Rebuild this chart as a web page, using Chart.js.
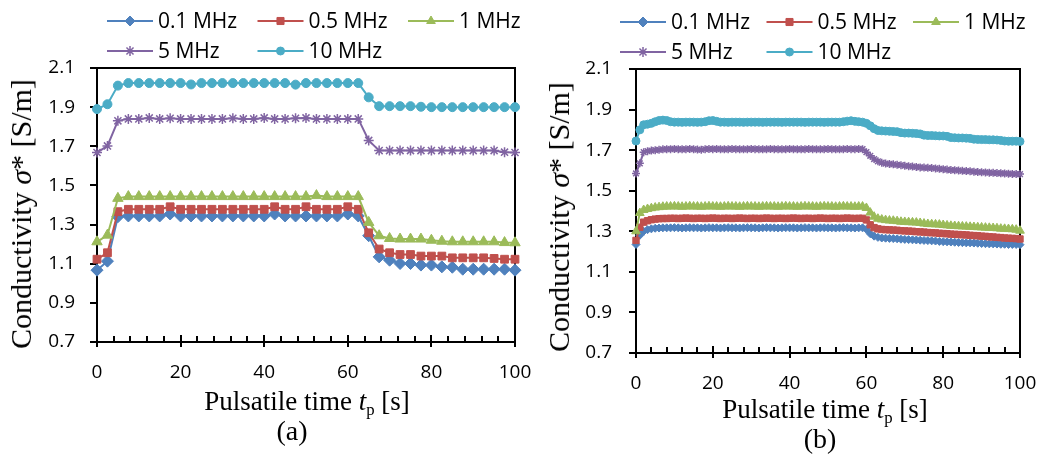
<!DOCTYPE html>
<html>
<head>
<meta charset="utf-8">
<script src="https://cdn.jsdelivr.net/npm/chart.js@4.4.0/dist/chart.umd.min.js"></script>
<style>
  body { margin: 0; background: #fff; width: 1040px; height: 459px; position: relative; overflow: hidden; }
  canvas { position: absolute; top: 0; }
  #chartA { left: 0; }
  #chartB { left: 520px; }
  .lbl { position: absolute; font-family: "Liberation Serif", "Times New Roman", serif; color: #000;
         white-space: nowrap; line-height: 1; transform: translate(-50%, -50%); }
  .ytitle { font-size: 30px; transform: translate(-50%, -50%) rotate(-90deg); }
  .xtitle { font-size: 27px; }
  .cap { font-size: 28px; }
  .sub { font-size: 0.62em; position: relative; top: 0.3em; }
</style>
</head>
<body>
<canvas id="chartA" width="545" height="459"></canvas>
<canvas id="chartB" width="520" height="459"></canvas>

<div class="lbl ytitle" style="left:21px; top:214px;">Conductivity <i>σ</i>* [S/m]</div>
<div class="lbl xtitle" style="left:307px; top:401px;">Pulsatile time <i>t</i><span class="sub">p</span> [s]</div>
<div class="lbl cap" style="left:292px; top:431px;">(a)</div>

<div class="lbl ytitle" style="left:559px; top:217px;">Conductivity <i>σ</i>* [S/m]</div>
<div class="lbl xtitle" style="left:825px; top:409px;">Pulsatile time <i>t</i><span class="sub">p</span> [s]</div>
<div class="lbl cap" style="left:820px; top:439px;">(b)</div>

<script>
// series names and colours
const seriesLabels = ["0.1 MHz", "0.5 MHz", "1 MHz", "5 MHz", "10 MHz"];
const seriesColors = ["#4F81BD", "#C0504D", "#9BBB59", "#8064A2", "#4BACC6"];
const seriesMarkers = ["rectRot", "rect", "triangle", "star", "circle"];

// axis ticks
const xTicks = [0, 20, 40, 60, 80, 100];
const yTicks = [0.7, 0.9, 1.1, 1.3, 1.5, 1.7, 1.9, 2.1];

// (a) sampled every 2.5 s
const timeA = [0, 2.5, 5, 7.5, 10, 12.5, 15, 17.5, 20, 22.5, 25, 27.5, 30, 32.5, 35, 37.5, 40, 42.5, 45, 47.5,
  50, 52.5, 55, 57.5, 60, 62.5, 65, 67.5, 70, 72.5, 75, 77.5, 80, 82.5, 85, 87.5, 90, 92.5, 95, 97.5, 100];
const a01 = [1.067, 1.113, 1.340, 1.344, 1.344, 1.344, 1.344, 1.354, 1.344, 1.344, 1.344, 1.344, 1.344, 1.344,
  1.344, 1.344, 1.344, 1.354, 1.344, 1.344, 1.344, 1.344, 1.344, 1.344, 1.354, 1.344, 1.243, 1.135, 1.118, 1.101,
  1.101, 1.093, 1.093, 1.084, 1.082, 1.072, 1.072, 1.072, 1.072, 1.072, 1.067];
const a05 = [1.123, 1.156, 1.366, 1.378, 1.378, 1.378, 1.378, 1.391, 1.378, 1.378, 1.378, 1.378, 1.378, 1.378,
  1.378, 1.378, 1.378, 1.391, 1.378, 1.378, 1.391, 1.378, 1.378, 1.378, 1.391, 1.378, 1.258, 1.175, 1.156, 1.147,
  1.147, 1.139, 1.139, 1.139, 1.130, 1.130, 1.130, 1.130, 1.127, 1.123, 1.123];
const a1 = [1.212, 1.246, 1.434, 1.443, 1.443, 1.443, 1.443, 1.443, 1.443, 1.443, 1.443, 1.443, 1.443, 1.443,
  1.443, 1.443, 1.443, 1.443, 1.443, 1.443, 1.443, 1.448, 1.443, 1.443, 1.443, 1.443, 1.311, 1.243, 1.229, 1.226,
  1.226, 1.226, 1.220, 1.215, 1.212, 1.212, 1.212, 1.212, 1.212, 1.208, 1.207];
const a5 = [1.668, 1.702, 1.830, 1.840, 1.840, 1.845, 1.840, 1.843, 1.840, 1.840, 1.840, 1.840, 1.840, 1.843,
  1.840, 1.840, 1.845, 1.840, 1.840, 1.843, 1.845, 1.840, 1.840, 1.840, 1.840, 1.840, 1.730, 1.678, 1.678, 1.678,
  1.678, 1.678, 1.678, 1.678, 1.678, 1.678, 1.678, 1.678, 1.678, 1.670, 1.668];
const a10 = [1.890, 1.915, 2.010, 2.023, 2.023, 2.023, 2.023, 2.023, 2.023, 2.016, 2.023, 2.023, 2.023, 2.023,
  2.023, 2.023, 2.023, 2.023, 2.023, 2.015, 2.023, 2.023, 2.023, 2.023, 2.023, 2.023, 1.950, 1.905, 1.905, 1.905,
  1.905, 1.902, 1.900, 1.900, 1.900, 1.900, 1.900, 1.900, 1.900, 1.900, 1.900];

// (b) sampled every 1 s
const timeB = [0, 1, 2, 3, 4, 5, 6, 7, 8, 9, 10, 11, 12, 13, 14, 15, 16, 17, 18, 19, 20, 21, 22, 23, 24, 25,
  26, 27, 28, 29, 30, 31, 32, 33, 34, 35, 36, 37, 38, 39, 40, 41, 42, 43, 44, 45, 46, 47, 48, 49, 50, 51, 52,
  53, 54, 55, 56, 57, 58, 59, 60, 61, 62, 63, 64, 65, 66, 67, 68, 69, 70, 71, 72, 73, 74, 75, 76, 77, 78, 79,
  80, 81, 82, 83, 84, 85, 86, 87, 88, 89, 90, 91, 92, 93, 94, 95, 96, 97, 98, 99, 100];
const b01 = [1.235, 1.280, 1.300, 1.308, 1.312, 1.315, 1.316, 1.317, 1.317, 1.317,
  1.318, 1.317, 1.316, 1.317, 1.318, 1.317, 1.317, 1.316, 1.317, 1.318,
  1.317, 1.317, 1.316, 1.317, 1.318, 1.317, 1.317, 1.316, 1.317, 1.318,
  1.317, 1.317, 1.316, 1.317, 1.318, 1.317, 1.317, 1.316, 1.317, 1.318,
  1.317, 1.317, 1.316, 1.317, 1.318, 1.317, 1.317, 1.316, 1.317, 1.318,
  1.317, 1.317, 1.316, 1.317, 1.318, 1.317, 1.317, 1.316, 1.317, 1.317,
  1.310, 1.288, 1.276, 1.270, 1.267, 1.266, 1.265, 1.264, 1.263, 1.261,
  1.260, 1.259, 1.258, 1.257, 1.256, 1.255, 1.254, 1.253, 1.252, 1.250,
  1.249, 1.248, 1.247, 1.246, 1.245, 1.244, 1.243, 1.243, 1.242, 1.241,
  1.240, 1.239, 1.238, 1.238, 1.237, 1.236, 1.236, 1.235, 1.235, 1.235, 1.234];
const b05 = [1.255, 1.320, 1.345, 1.352, 1.357, 1.360, 1.362, 1.363, 1.363, 1.364,
  1.364, 1.363, 1.364, 1.365, 1.364, 1.363, 1.364, 1.364, 1.363, 1.364,
  1.365, 1.364, 1.363, 1.364, 1.364, 1.363, 1.364, 1.365, 1.364, 1.363,
  1.364, 1.364, 1.363, 1.364, 1.365, 1.364, 1.363, 1.364, 1.364, 1.363,
  1.364, 1.365, 1.364, 1.363, 1.364, 1.364, 1.363, 1.364, 1.365, 1.364,
  1.363, 1.364, 1.364, 1.363, 1.364, 1.365, 1.364, 1.363, 1.364, 1.364,
  1.356, 1.332, 1.318, 1.312, 1.309, 1.308, 1.307, 1.306, 1.305, 1.303,
  1.302, 1.301, 1.300, 1.298, 1.297, 1.296, 1.294, 1.293, 1.292, 1.290,
  1.289, 1.288, 1.286, 1.285, 1.284, 1.283, 1.282, 1.280, 1.279, 1.278,
  1.276, 1.275, 1.273, 1.272, 1.270, 1.269, 1.267, 1.266, 1.265, 1.264, 1.262];
const b1 = [1.300, 1.390, 1.405, 1.410, 1.414, 1.417, 1.419, 1.421, 1.422, 1.422,
  1.423, 1.422, 1.421, 1.422, 1.423, 1.422, 1.422, 1.421, 1.422, 1.423,
  1.422, 1.422, 1.421, 1.422, 1.423, 1.422, 1.422, 1.421, 1.422, 1.423,
  1.422, 1.422, 1.421, 1.422, 1.423, 1.422, 1.422, 1.421, 1.422, 1.423,
  1.422, 1.422, 1.421, 1.422, 1.423, 1.422, 1.422, 1.421, 1.422, 1.423,
  1.422, 1.422, 1.421, 1.422, 1.423, 1.422, 1.422, 1.421, 1.422, 1.422,
  1.415, 1.392, 1.372, 1.362, 1.358, 1.355, 1.353, 1.352, 1.350, 1.347,
  1.346, 1.345, 1.344, 1.343, 1.341, 1.338, 1.336, 1.335, 1.334, 1.333,
  1.331, 1.329, 1.327, 1.326, 1.325, 1.324, 1.323, 1.322, 1.321, 1.320,
  1.319, 1.318, 1.317, 1.316, 1.315, 1.313, 1.312, 1.311, 1.310, 1.308, 1.303];
const b5 = [1.585, 1.635, 1.690, 1.695, 1.698, 1.700, 1.702, 1.704, 1.705, 1.705,
  1.706, 1.705, 1.704, 1.705, 1.706, 1.705, 1.703, 1.702, 1.705, 1.706,
  1.705, 1.706, 1.705, 1.704, 1.705, 1.706, 1.705, 1.705, 1.704, 1.705,
  1.706, 1.705, 1.705, 1.704, 1.705, 1.706, 1.705, 1.705, 1.704, 1.705,
  1.706, 1.705, 1.705, 1.704, 1.705, 1.706, 1.705, 1.705, 1.704, 1.705,
  1.706, 1.705, 1.705, 1.704, 1.705, 1.706, 1.705, 1.705, 1.706, 1.705,
  1.690, 1.672, 1.656, 1.645, 1.638, 1.634, 1.632, 1.630, 1.628, 1.626,
  1.623, 1.621, 1.619, 1.617, 1.615, 1.614, 1.613, 1.612, 1.610, 1.608,
  1.606, 1.604, 1.602, 1.601, 1.600, 1.598, 1.597, 1.596, 1.594, 1.592,
  1.591, 1.590, 1.589, 1.588, 1.587, 1.586, 1.585, 1.584, 1.583, 1.582, 1.582];
const b10 = [1.745, 1.800, 1.825, 1.828, 1.832, 1.840, 1.846, 1.848, 1.846, 1.840,
  1.838, 1.838, 1.837, 1.838, 1.838, 1.838, 1.837, 1.838, 1.840, 1.845,
  1.846, 1.842, 1.838, 1.838, 1.837, 1.838, 1.838, 1.838, 1.837, 1.838,
  1.838, 1.838, 1.838, 1.837, 1.838, 1.838, 1.838, 1.838, 1.837, 1.838,
  1.838, 1.838, 1.838, 1.838, 1.837, 1.838, 1.838, 1.838, 1.838, 1.837,
  1.838, 1.838, 1.838, 1.838, 1.840, 1.843, 1.845, 1.842, 1.840, 1.838,
  1.832, 1.820, 1.806, 1.797, 1.795, 1.794, 1.793, 1.792, 1.791, 1.786,
  1.784, 1.784, 1.783, 1.782, 1.780, 1.774, 1.772, 1.772, 1.771, 1.770,
  1.770, 1.768, 1.762, 1.761, 1.760, 1.760, 1.759, 1.758, 1.754, 1.753,
  1.752, 1.752, 1.751, 1.751, 1.750, 1.748, 1.745, 1.744, 1.744, 1.744, 1.743];

const FONT = '"Open Sans", "Liberation Sans", sans-serif';

// box around the plot plus inner tick marks (major cross the axis, minor every 4 s inside)
const framePlugin = {
  id: "frame",
  beforeDatasetsDraw(chart) {
    const { ctx, chartArea: a, scales: { x } } = chart;
    ctx.save();
    ctx.strokeStyle = "#000";
    ctx.lineWidth = 2;
    ctx.strokeRect(a.left, a.top, a.right - a.left, a.bottom - a.top);
    ctx.beginPath();
    for (let v = 0; v <= 100; v += 4) {
      const px = Math.round(x.getPixelForValue(v));
      const len = xTicks.includes(v) ? 7 : 6;
      ctx.moveTo(px, a.bottom);
      ctx.lineTo(px, a.bottom - len);
    }
    ctx.stroke();
    ctx.restore();
  }
};

// legend laid out as a 3-column grid like the original
const gridLegend = {
  id: "gridLegend",
  afterDraw(chart, args, opts) {
    const ctx = chart.ctx;
    chart.data.datasets.forEach((ds, i) => {
      const x = opts.x0 + (i % 3) * opts.colW;
      const y = opts.y0 + Math.floor(i / 3) * opts.rowH;
      ctx.save();
      ctx.strokeStyle = ds.borderColor;
      ctx.lineWidth = 2;
      ctx.beginPath();
      ctx.moveTo(x, y);
      ctx.lineTo(x + 46, y);
      ctx.stroke();
      ctx.fillStyle = ds.pointBackgroundColor;
      ctx.strokeStyle = ds.borderColor;
      ctx.lineWidth = ds.pointStyle === "star" ? 1.5 : 1;
      Chart.helpers.drawPoint(ctx, { pointStyle: ds.pointStyle, radius: ds.pointStyle === "circle" ? 4 : 5, rotation: 0, borderWidth: ctx.lineWidth }, x + 23, y);
      ctx.fillStyle = "#000";
      ctx.font = "21px " + FONT;
      ctx.textBaseline = "middle";
      ctx.fillText(ds.label, x + 51, y + 1);
      ctx.restore();
    });
  }
};

function makeChart(id, times, seriesValues, layout) {
  const datasets = seriesValues.map((vals, i) => ({
    label: seriesLabels[i],
    data: times.map((t, k) => ({ x: t, y: vals[k] })),
    borderColor: seriesColors[i],
    backgroundColor: seriesColors[i],
    pointBackgroundColor: seriesColors[i],
    pointBorderColor: seriesColors[i],
    pointStyle: seriesMarkers[i],
    pointRadius: layout.radius[i],
    pointBorderWidth: seriesMarkers[i] === "star" ? 1.5 : 1,
    borderWidth: 2,
    tension: 0,
    clip: false,
    order: seriesLabels.length - i
  }));

  return new Chart(document.getElementById(id), {
    type: "line",
    data: { datasets },
    options: {
      responsive: false,
      animation: false,
      layout: { autoPadding: false, padding: { left: 0, right: layout.padRight, top: layout.top, bottom: 0 } },
      plugins: {
        legend: { display: false },
        tooltip: { enabled: false },
        gridLegend: layout.legend
      },
      scales: {
        x: {
          type: "linear", min: 0, max: 100,
          afterBuildTicks: s => { s.ticks = xTicks.map(v => ({ value: v })); },
          afterFit: s => { s.height = layout.xH; s.paddingLeft = 0; s.paddingRight = 0; },
          ticks: { color: "#000", font: { family: FONT, size: 19 }, padding: layout.xPad, maxRotation: 0 },
          grid: { drawOnChartArea: false, color: "#000", lineWidth: 2, tickLength: 5 },
          border: { color: "#000", width: 2 }
        },
        y: {
          min: 0.7, max: 2.1,
          afterBuildTicks: s => { s.ticks = yTicks.map(v => ({ value: v })); },
          afterFit: s => { s.width = layout.yW; s.paddingTop = 0; s.paddingBottom = 0; },
          ticks: { color: "#000", font: { family: FONT, size: 19 }, padding: layout.yPad, callback: v => v.toFixed(1) },
          grid: { drawOnChartArea: false, color: "#000", lineWidth: 2, tickLength: 7 },
          border: { color: "#000", width: 2 }
        }
      }
    },
    plugins: [framePlugin, gridLegend]
  });
}

makeChart("chartA", timeA, [a01, a05, a1, a5, a10], {
  top: 68, padRight: 30, xH: 117, yW: 97, xPad: 14, yPad: 15,
  radius: [6, 5.5, 6, 5, 4.5],
  legend: { x0: 107, y0: 21, colW: 150.5, rowH: 30 }
});

makeChart("chartB", timeB, [b01, b05, b1, b5, b10], {
  top: 69, padRight: 20, xH: 106, yW: 116, xPad: 14, yPad: 17,
  radius: [4, 4.5, 5, 4, 4],
  legend: { x0: 100, y0: 22, colW: 146.5, rowH: 30 }
});
</script>
</body>
</html>
